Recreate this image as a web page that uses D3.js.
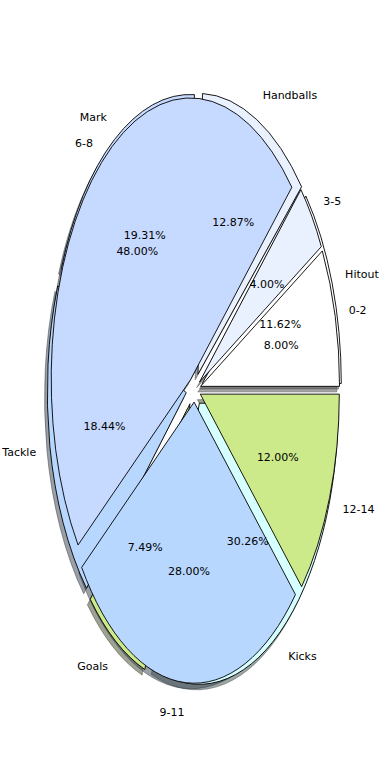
<!DOCTYPE html>
<html>
<head>
<meta charset="utf-8">
<script src="https://cdn.jsdelivr.net/npm/d3@7"></script>
<style>
  body { margin: 0; background: #fff; }
  svg { display: block; }
  text { font-family: "DejaVu Sans", sans-serif; font-size: 11px; fill: #000; }
</style>
</head>
<body>
<div id="chart"></div>
<script>
// outer ring: what the player did, inner ring: how often
const statNames = ['Hitout', 'Handballs', 'Mark', 'Tackle', 'Goals', 'Kicks'];
const statShares = [11.62, 12.87, 19.31, 18.44, 7.49, 30.26];
const rangeNames = ['0-2', '3-5', '6-8', '9-11', '12-14'];
const rangeShares = [8, 4, 48, 28, 12];
const sliceColors = ['#ffffff', '#e9f1ff', '#c6d9ff', '#b7d7ff', '#cdea8a', '#d6ffff'];

const width = 390;
const height = 780;
const cx = 194.5, cy = 389.5, rx = 139, ry = 281;
const shadowDx = -2.8, shadowDy = 5.5;
const textShift = 1.5;

const x = d3.scaleLinear().domain([-1, 1]).range([cx - rx, cx + rx]);
const y = d3.scaleLinear().domain([-1, 1]).range([cy + ry, cy - ry]);

// start at 3 o'clock, go counter-clockwise (like matplotlib)
const pie = d3.pie()
  .sort(null)
  .startAngle(Math.PI / 2)
  .endAngle(Math.PI / 2 - 2 * Math.PI);

const arc = d3.arc().innerRadius(0).outerRadius(1);

const layers = [
  { names: statNames, arcs: pie(statShares), explode: 0.06 },
  { names: rangeNames, arcs: pie(rangeShares), explode: 0.045 },
];

const slices = [];
layers.forEach((layer) => {
  const total = d3.sum(layer.arcs, (d) => d.value);
  layer.arcs.forEach((a, i) => {
    const mid = (a.startAngle + a.endAngle) / 2;
    slices.push({
      arc: a,
      name: layer.names[i],
      pct: d3.format('.2f')((a.value / total) * 100) + '%',
      color: sliceColors[i],
      ux: Math.sin(mid),
      uy: Math.cos(mid),
      explode: layer.explode,
    });
  });
});

const svg = d3
  .select('#chart')
  .append('svg')
  .attr('width', width)
  .attr('height', height);

const shade = (c) => {
  const k = d3.rgb(c);
  return d3.rgb(k.r * 0.3, k.g * 0.3, k.b * 0.3).toString();
};

const place = (d, dist) =>
  [x(d.ux * (d.explode + dist)), y(d.uy * (d.explode + dist))];

// all shadows sit below all wedges
svg.append('g')
  .selectAll('path')
  .data(slices)
  .enter()
  .append('path')
  .attr('d', (d) => arc(d.arc))
  .attr('transform', (d) => {
    const [px, py] = place(d, 0);
    return `translate(${px + shadowDx},${py + shadowDy}) scale(${rx},${ry})`;
  })
  .attr('vector-effect', 'non-scaling-stroke')
  .style('fill', (d) => shade(d.color))
  .style('fill-opacity', 0.5)
  .style('stroke', (d) => shade(d.color))
  .style('stroke-opacity', 0.5)
  .style('stroke-width', 1);

svg.append('g')
  .selectAll('path')
  .data(slices)
  .enter()
  .append('path')
  .attr('d', (d) => arc(d.arc))
  .attr('transform', (d) => {
    const [px, py] = place(d, 0);
    return `translate(${px},${py}) scale(${rx},${ry})`;
  })
  .attr('vector-effect', 'non-scaling-stroke')
  .style('fill', (d) => d.color)
  .style('stroke', '#000')
  .style('stroke-width', 0.9)
  .style('stroke-linejoin', 'miter');

const texts = svg.append('g');

texts.selectAll('.name')
  .data(slices)
  .enter()
  .append('text')
  .attr('class', 'name')
  .attr('x', (d) => place(d, 1.1)[0])
  .attr('y', (d) => place(d, 1.1)[1] + textShift)
  .attr('text-anchor', (d) => (d.ux > 0 ? 'start' : 'end'))
  .attr('dominant-baseline', 'central')
  .text((d) => d.name);

texts.selectAll('.pct')
  .data(slices)
  .enter()
  .append('text')
  .attr('class', 'pct')
  .attr('x', (d) => place(d, 0.6)[0])
  .attr('y', (d) => place(d, 0.6)[1] + textShift)
  .attr('text-anchor', 'middle')
  .attr('dominant-baseline', 'central')
  .text((d) => d.pct);
</script>
</body>
</html>
